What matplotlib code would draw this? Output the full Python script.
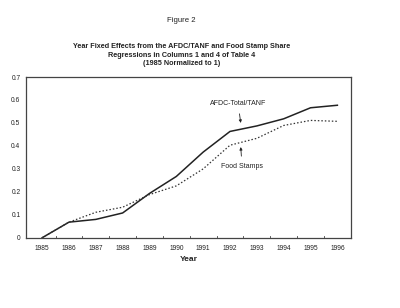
import matplotlib
matplotlib.use("Agg")
import matplotlib.pyplot as plt

plt.rcParams['font.family'] = ['Liberation Sans', 'DejaVu Sans']

years = [1985, 1986, 1987, 1988, 1989, 1990, 1991, 1992, 1993, 1994, 1995, 1996]
afdc = [0.0, 0.068, 0.080, 0.108, 0.193, 0.267, 0.373, 0.463, 0.487, 0.518, 0.566, 0.577]
food = [0.0, 0.068, 0.111, 0.133, 0.188, 0.226, 0.300, 0.403, 0.433, 0.489, 0.511, 0.507]
yticks = [0, 0.1, 0.2, 0.3, 0.4, 0.5, 0.6, 0.7]
ytick_labels = ["0", "0.1", "0.2", "0.3", "0.4", "0.5", "0.6", "0.7"]

fig = plt.figure(figsize=(4.0, 3.08), dpi=100)
fig.patch.set_facecolor("white")
ax = fig.add_axes([0.065, 0.228, 0.812, 0.522])

ax.plot(years, afdc, color="#222222", lw=1.1, ls="-")
ax.plot(years, food, color="#333333", lw=0.9, ls=(0, (1.2, 1.6)))

ax.set_xlim(1984.4, 1996.5)
ax.set_ylim(0, 0.7)
ax.set_yticks(yticks)
ax.set_yticklabels(ytick_labels)
ax.set_xticks(years)
ax.set_xticklabels([str(y) for y in years])
ax.tick_params(axis="both", labelsize=4.8, colors="#222222", length=0, pad=4)
ax.tick_params(axis="x", pad=5)
for b in [y + 0.5 for y in years[:-1]]:
    ax.plot([b, b], [0, 0.006], color="#444444", lw=0.6, clip_on=False)
for s in ax.spines.values():
    s.set_color("#444444")
    s.set_linewidth(0.9)

ax.set_xlabel("Year", fontsize=6, fontweight="bold", labelpad=3, color="#222222")

ax.annotate("AFDC-Total/TANF", xy=(1992.4, 0.500), xytext=(1992.3, 0.585),
            fontsize=5, ha="center", va="center", color="#222222",
            arrowprops=dict(arrowstyle="-|>", color="#222222", lw=0.6,
                            mutation_scale=4, shrinkA=3, shrinkB=0))
ax.annotate("Food Stamps", xy=(1992.4, 0.395), xytext=(1992.45, 0.31),
            fontsize=5, ha="center", va="center", color="#222222",
            arrowprops=dict(arrowstyle="-|>", color="#222222", lw=0.6,
                            mutation_scale=4, shrinkA=3, shrinkB=0))

fig.text(0.453, 0.935, "Figure 2", fontsize=5.6, ha="center", va="center", color="#222222")
fig.text(0.455, 0.82,
         "Year Fixed Effects from the AFDC/TANF and Food Stamp Share\n"
         "Regressions in Columns 1 and 4 of Table 4\n"
         "(1985 Normalized to 1)",
         fontsize=5.2, fontweight="bold", ha="center", va="center",
         linespacing=1.3, color="#222222")

fig.savefig("out.png", dpi=100, facecolor="white")
